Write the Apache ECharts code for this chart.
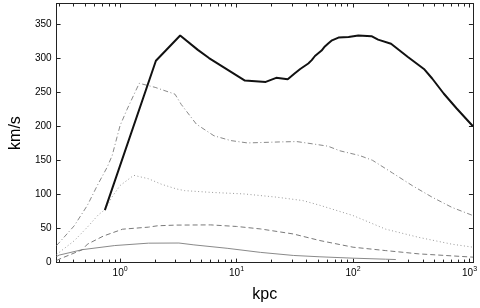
<!DOCTYPE html>
<html><head><meta charset="utf-8">
<script src="https://cdn.jsdelivr.net/npm/echarts@6/dist/echarts.min.js"></script>
<style>html,body{margin:0;padding:0;background:#fff}#c{width:480px;height:308px}</style>
</head><body><div id="c"></div>
<script>
// ---- data (kpc, km/s) ----
const totalR = [0.74,2.03,3.28,4.65,5.8,11.8,17.8,21.9,27.5,31.3,35.2,41.3,44.2,47.1,53.7,57.3,61.9,66,75,91.5,111,144,164,212,294,406,478,600,776,1070];
const totalV = [77,296,333,312,300,267,265,271,269,277,284,292,297,303,311,317,322,326,330,331,333,332,327,321,302,284,270,248,226,200];

const dashDotR = [0.285,0.404,0.524,0.637,0.775,0.855,1.0,1.15,1.46,2.0,2.96,3.35,4.52,6.4,8.9,12.4,23.7,32.9,45.5,61,77,114,147,218,322,477,706,1070];
const dashDotV = [25,54,84,113,140,157,201,225,263,257,247,232,203,186,179,175.5,177,177.5,174,170.7,164,157,150,131.5,113,96,81,69];

const dottedR = [0.285,0.404,0.524,0.65,0.745,0.85,1.0,1.31,1.75,2.26,3.05,3.57,6,11.6,22,37,52,100,191,367,706,1070];
const dottedV = [12,32,52,70,78,96,113,128,123,115,108,105.6,103,100.7,96,91,84,69,49,37,27,22.6];

const dashedR = [0.285,0.3,0.475,0.524,0.72,1.05,1.75,2.1,3,6,10,16,30.7,52,100,191,367,1070];
const dashedV = [3,5,19,27,39,49,52,54,55,55.3,53,49.4,42,32.3,22.6,17.6,12.8,8];

const thinR = [0.285,0.3,0.475,0.9,1.75,3.2,4.3,8.3,16,30.7,52,100,190,233];
const thinV = [9,11,19,25,28.5,28.7,26,21,15,10.5,8.5,6.5,5,4.5];

const xMajor = [1,10,100,1000];
const xMinor = [0.3,0.4,0.5,0.6,0.7,0.8,0.9,2,3,4,5,6,7,8,9,20,30,40,50,60,70,80,90,200,300,400,500,600,700,800,900];
const yTicks = [0,50,100,150,200,250,300,350];

const zip = (a,b) => a.map((v,i)=>[v,b[i]]);
const FONT = "'Liberation Sans', Arial, Helvetica, sans-serif";
const AX = '#222';

const chart = echarts.init(document.getElementById('c'), null, {renderer:'canvas'});

function xAx(pos, ticks, len, labels) {
  return {
    type:'log', logBase:10, min:0.285, max:1070, position:pos,
    axisLine:{show:true, onZero:false, lineStyle:{color:AX, width:1}},
    axisTick:{show:true, inside:true, length:len, customValues:ticks, lineStyle:{color:AX, width:1}},
    axisLabel: labels ? {
      show:true, customValues:ticks, margin:4, color:'#000',
      formatter: v => '{b|10}{s|' + Math.round(Math.log10(v)) + '}',
      rich:{
        b:{fontSize:10, fontFamily:FONT, color:'#000', lineHeight:14},
        s:{fontSize:7, fontFamily:FONT, color:'#000', lineHeight:8, padding:[0,0,10,0]}
      }
    } : {show:false},
    splitLine:{show:false}, minorTick:{show:false}, minorSplitLine:{show:false}
  };
}
function yAx(pos, labels) {
  return {
    type:'value', min:0, max:380, interval:50, position:pos,
    axisLine:{show:true, onZero:false, lineStyle:{color:AX, width:1}},
    axisTick:{show:true, inside:true, length:4, customValues:yTicks, lineStyle:{color:AX, width:1}},
    axisLabel: labels ? {show:true, customValues:yTicks, margin:5, fontSize:10, fontFamily:FONT, color:'#000'} : {show:false},
    splitLine:{show:false}
  };
}

const xAxes = [xAx('bottom', xMajor, 4, true), xAx('bottom', xMinor, 3, false), xAx('top', xMajor, 4, false), xAx('top', xMinor, 3, false)];
xAxes[0].name = 'kpc';
xAxes[0].nameLocation = 'middle';
xAxes[0].nameGap = 15;
xAxes[0].nameTextStyle = {fontSize:16, fontFamily:FONT, color:'#000'};
const yAxes = [yAx('left', true), yAx('right', false)];
yAxes[0].name = 'km/s';
yAxes[0].nameLocation = 'middle';
yAxes[0].nameGap = 24;
yAxes[0].nameTextStyle = {fontSize:16, fontFamily:FONT, color:'#000'};

function ser(r, v, color, width, type, z) {
  return {type:'line', data:zip(r,v), xAxisIndex:0, yAxisIndex:0, showSymbol:false, symbol:'none',
    lineStyle:{color:color, width:width, type:type}, z:z, animation:false, silent:true};
}

chart.setOption({
  animation:false,
  backgroundColor:'#fff',
  grid:{left:54, right:5.5, top:3.5, bottom:44.3, containLabel:false},
  xAxis:xAxes,
  yAxis:yAxes,
  series:[
    ser(thinR, thinV, '#8a8a8a', 1, 'solid', 2),
    ser(dashedR, dashedV, '#7a7a7a', 1, [5,3], 2),
    ser(dottedR, dottedV, '#9a9a9a', 1, [1,2.5], 2),
    ser(dashDotR, dashDotV, '#8a8a8a', 1, [5,2.5,1,2.5], 2),
    ser(totalR, totalV, '#111', 2, 'solid', 5)
  ]
});
</script>
</body></html>
